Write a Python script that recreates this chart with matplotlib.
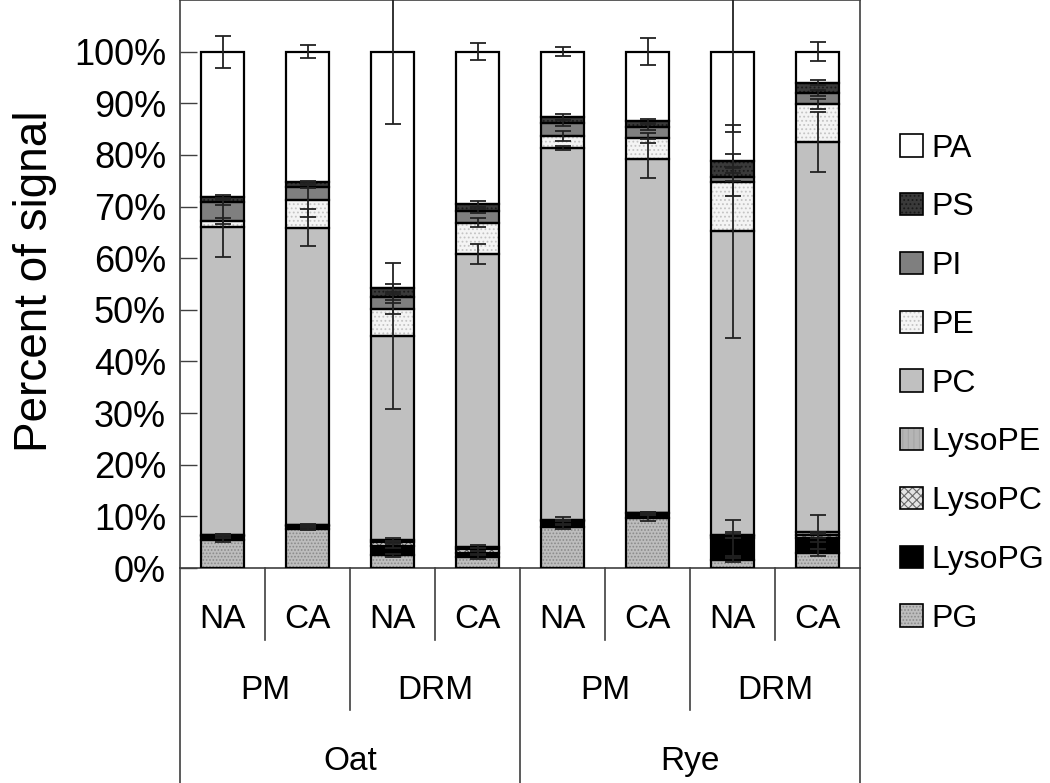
import matplotlib
matplotlib.use("Agg")
import matplotlib.pyplot as plt
from matplotlib.patches import Patch
from matplotlib.transforms import blended_transform_factory
import numpy as np

plt.rcParams["font.family"] = ["Liberation Sans", "DejaVu Sans"]
plt.rcParams["hatch.linewidth"] = 0.8

# bars: Oat PM NA, Oat PM CA, Oat DRM NA, Oat DRM CA, Rye PM NA, Rye PM CA, Rye DRM NA, Rye DRM CA
treatment = ["NA", "CA", "NA", "CA", "NA", "CA", "NA", "CA"]
fraction = ["PM", "DRM", "PM", "DRM"]
species = ["Oat", "Rye"]

# segment values (%), stacked bottom to top
lipids = ["PG", "LysoPG", "LysoPC", "LysoPE", "PC", "PE", "PI", "PS", "PA"]
PG = [5.5, 7.6, 2.5, 2.2, 8.0, 9.7, 1.6, 3.0]
LysoPG = [0.7, 0.6, 1.8, 0.8, 1.1, 0.9, 4.2, 2.8]
LysoPC = [0.1, 0.1, 0.7, 0.6, 0.05, 0.05, 0.4, 0.6]
LysoPE = [0.1, 0.1, 0.5, 0.5, 0.05, 0.05, 0.2, 0.5]
PC = [59.6, 57.5, 39.4, 56.7, 72.2, 68.6, 58.8, 75.6]
PE = [1.2, 5.4, 5.3, 6.1, 2.2, 4.0, 9.5, 7.4]
PI = [3.6, 2.5, 2.3, 2.2, 2.6, 2.1, 1.0, 2.1]
PS = [1.0, 0.9, 1.7, 1.4, 1.2, 1.2, 3.2, 2.0]
PA = [28.2, 25.3, 45.8, 29.5, 12.6, 13.4, 21.1, 6.0]

# error bars (+/-), same order
PG_err = [0.4, 0.2, 0.3, 0.4, 0.5, 0.6, 0.4, 0.6]
LysoPG_err = [0.3, 0.2, 0.5, 0.3, 0.7, 0.3, 3.4, 0.8]
LysoPC_err = [0.1, 0.1, 0.3, 0.3, 0.1, 0.1, 0.3, 0.5]
LysoPE_err = [0.1, 0.1, 0.3, 0.3, 0.1, 0.1, 0.5, 3.3]
PC_err = [5.7, 3.6, 14.2, 1.9, 0.4, 3.8, 20.6, 5.9]
PE_err = [0.6, 3.4, 1.1, 0.8, 1.0, 1.0, 2.7, 1.0]
PI_err = [0.5, 0.3, 0.6, 0.4, 0.6, 0.5, 0.8, 0.6]
PS_err = [0.4, 0.3, 0.8, 0.5, 0.6, 0.4, 1.3, 0.5]
PA_err = [3.1, 1.3, 14.1, 1.6, 0.9, 2.6, 15.5, 1.9]

values = [PG, LysoPG, LysoPC, LysoPE, PC, PE, PI, PS, PA]
errors = [PG_err, LysoPG_err, LysoPC_err, LysoPE_err, PC_err, PE_err, PI_err, PS_err, PA_err]

# face colour, hatch colour, hatch
styles = {
    "PG": ("#bdbdbd", "#8a8a8a", "....."),
    "LysoPG": ("#000000", "#000000", None),
    "LysoPC": ("#e4e4e4", "#6a6a6a", "xxxx"),
    "LysoPE": ("#b5b5b5", "#a5a5a5", "|||"),
    "PC": ("#c0c0c0", "#c0c0c0", None),
    "PE": ("#f4f4f4", "#c4c4c4", "...."),
    "PI": ("#7f7f7f", "#7f7f7f", None),
    "PS": ("#3a3a3a", "#1a1a1a", "...."),
    "PA": ("#ffffff", "#ffffff", None),
}

fig = plt.figure(figsize=(10.5, 7.83), dpi=100)
ax = fig.add_axes([180 / 1050, 215 / 783, 680 / 1050, 568 / 783])

x = np.arange(len(treatment))
width = 0.5
bottom = np.zeros(len(x))
for name, vals, errs in zip(lipids, values, errors):
    vals = np.array(vals)
    face, hcol, hatch = styles[name]
    ax.bar(x, vals, width, bottom=bottom, color=face, edgecolor=hcol,
           hatch=hatch, linewidth=0, zorder=2)
    ax.bar(x, vals, width, bottom=bottom, fill=False, edgecolor="black",
           linewidth=1.6, zorder=3)
    bottom = bottom + vals
    ax.errorbar(x, bottom, yerr=errs, fmt="none", ecolor="#222222",
                elinewidth=1.3, capsize=6, capthick=1.3, zorder=4)

ax.set_xlim(-0.5, len(x) - 0.5)
ax.set_ylim(0, 110)
ax.set_yticks(np.arange(0, 101, 10))
ax.set_yticklabels([f"{v}%" for v in range(0, 101, 10)], fontsize=26)
ax.tick_params(axis="y", direction="in", length=12, width=1, pad=10, color="#404040")
ax.set_xticks([])
for sp in ax.spines.values():
    sp.set_color("#404040")
    sp.set_linewidth(1.2)

fig.text(35 / 1050, 1 - 281 / 783, "Percent of signal", rotation=90,
         ha="center", va="center", fontsize=33)

# multi-level category axis below the plot
tr = blended_transform_factory(ax.transData, ax.transAxes)
line_kw = dict(color="#404040", lw=1.2, transform=tr, clip_on=False)
for xv in [0.5, 2.5, 4.5, 6.5]:
    ax.plot([xv, xv], [0, -0.127], **line_kw)
for xv in [1.5, 5.5]:
    ax.plot([xv, xv], [0, -0.25], **line_kw)
for xv in [-0.5, 3.5, 7.5]:
    ax.plot([xv, xv], [0, -0.385], **line_kw)

for xi, lab in zip(x, treatment):
    ax.text(xi, -0.09, lab, transform=tr, ha="center", va="center", fontsize=24)
for i, lab in enumerate(fraction):
    ax.text(2 * i + 0.5, -0.215, lab, transform=tr, ha="center", va="center", fontsize=24)
for i, lab in enumerate(species):
    ax.text(4 * i + 1.5, -0.3415, lab, transform=tr, ha="center", va="center", fontsize=24)

# legend, top entry first
handles = []
for name in lipids[::-1]:
    face, hcol, hatch = styles[name]
    handles.append((Patch(facecolor=face, edgecolor=hcol, hatch=hatch, linewidth=0),
                    Patch(fill=False, edgecolor="black", linewidth=1.2)))
fig.legend(handles, lipids[::-1], loc="center left", bbox_to_anchor=(0.836, 0.51),
           frameon=False, fontsize=23, handlelength=0.7, handleheight=0.7,
           handletextpad=0.28, labelspacing=0.9, borderpad=0.2)

fig.savefig("out.png", dpi=100, facecolor="white")
